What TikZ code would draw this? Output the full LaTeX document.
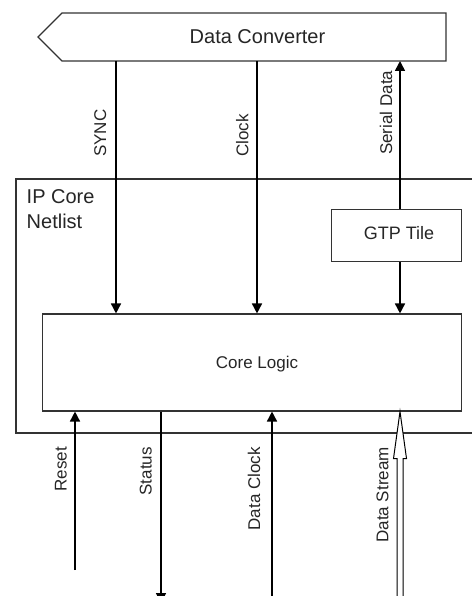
\documentclass[tikz,border=0pt]{standalone}
\usepackage{fontspec}
\setmainfont{Liberation Sans}
\usetikzlibrary{arrows.meta,calc}
\begin{document}
\begin{tikzpicture}[x=1pt,y=-1pt,
  box/.style={draw=black!80, line width=1.1pt, inner sep=0pt},
  sig/.style={line width=1.6pt, draw=black, -{Triangle[length=10pt,width=10pt]}},
  txt/.style={inner sep=0pt, text=black!85},
  lbl/.style={txt, rotate=90, font=\fontsize{17}{20}\selectfont},
]
\useasboundingbox (0,0) rectangle (471,596);
% IP core netlist frame (open at right)
\draw[draw=black!80, line width=1.1pt] (476,179) -- (16,179) -- (16,433) -- (476,433);
\node[txt, anchor=base west, font=\fontsize{20}{24}\selectfont] (ipc) at (26.5,203) {IP Core};
\node[txt, anchor=base west, font=\fontsize{20}{24}\selectfont] (ipn) at (26.5,228) {Netlist};
% data converter
\draw[draw=black!80, line width=1.1pt, fill=white] (38,37) -- (62,13) -- (446,13) -- (446,61) -- (62,61) -- cycle;
\node[txt, font=\fontsize{20}{24}\selectfont] (dc) at (257.5,36.5) {Data Converter};
% boxes
\node[box, minimum width=419pt, minimum height=97pt] (core) at (251.7,362.5) {};
\node[txt, anchor=base, font=\fontsize{17}{20}\selectfont] (corel) at (257,368) {Core Logic};
\node[box, minimum width=130pt, minimum height=52.4pt] (gtp) at (396.7,235.5) {};
\node[txt, anchor=base, font=\fontsize{18}{22}\selectfont] (gtpl) at (399,239) {GTP Tile};
% coordinates
\coordinate (syncT) at (116,61);
\coordinate (clkT) at (257,61);
\coordinate (serT) at (400,61);
\coordinate (resetB) at (75,570);
\coordinate (statB) at (161,603);
\coordinate (dclkB) at (272,600);
\coordinate (dsB) at (400,602);
% top connectors
\draw[sig] (syncT) -- (syncT |- core.north);
\draw[sig] (clkT) -- (clkT |- core.north);
\draw[sig] (gtp.north -| serT) -- (serT);
\draw[sig] (gtp.south -| serT) -- (serT |- core.north);
% bottom connectors
\draw[sig] (resetB) -- (resetB |- core.south);
\draw[sig] (core.south -| statB) -- (statB);
\draw[sig] (dclkB) -- (dclkB |- core.south);
\coordinate (dsT) at (core.south -| dsB);
\draw[line width=1pt, draw=black, fill=white, line join=miter]
  ($(dsB)+(-3,0)$) -- ($(dsT)+(-3,47)$) -- ($(dsT)+(-6.5,47)$) -- (dsT)
  -- ($(dsT)+(6.5,47)$) -- ($(dsT)+(3,47)$) -- ($(dsB)+(3,0)$);
% labels
\node[lbl, anchor=base west] (lsync) at (106,157) {SYNC};
\node[lbl, anchor=base west] (lclk) at (248.3,157) {Clock};
\node[lbl, anchor=base west] (lser) at (392,155) {Serial Data};
\node[lbl, anchor=base east] (lreset) at (66.7,447) {Reset};
\node[lbl, anchor=base east] (lstat) at (151.7,447) {Status};
\node[lbl, anchor=base east] (ldclk) at (260,447) {Data Clock};
\node[lbl, anchor=base east] (lds) at (388.3,447) {Data Stream};
\end{tikzpicture}
\end{document}
